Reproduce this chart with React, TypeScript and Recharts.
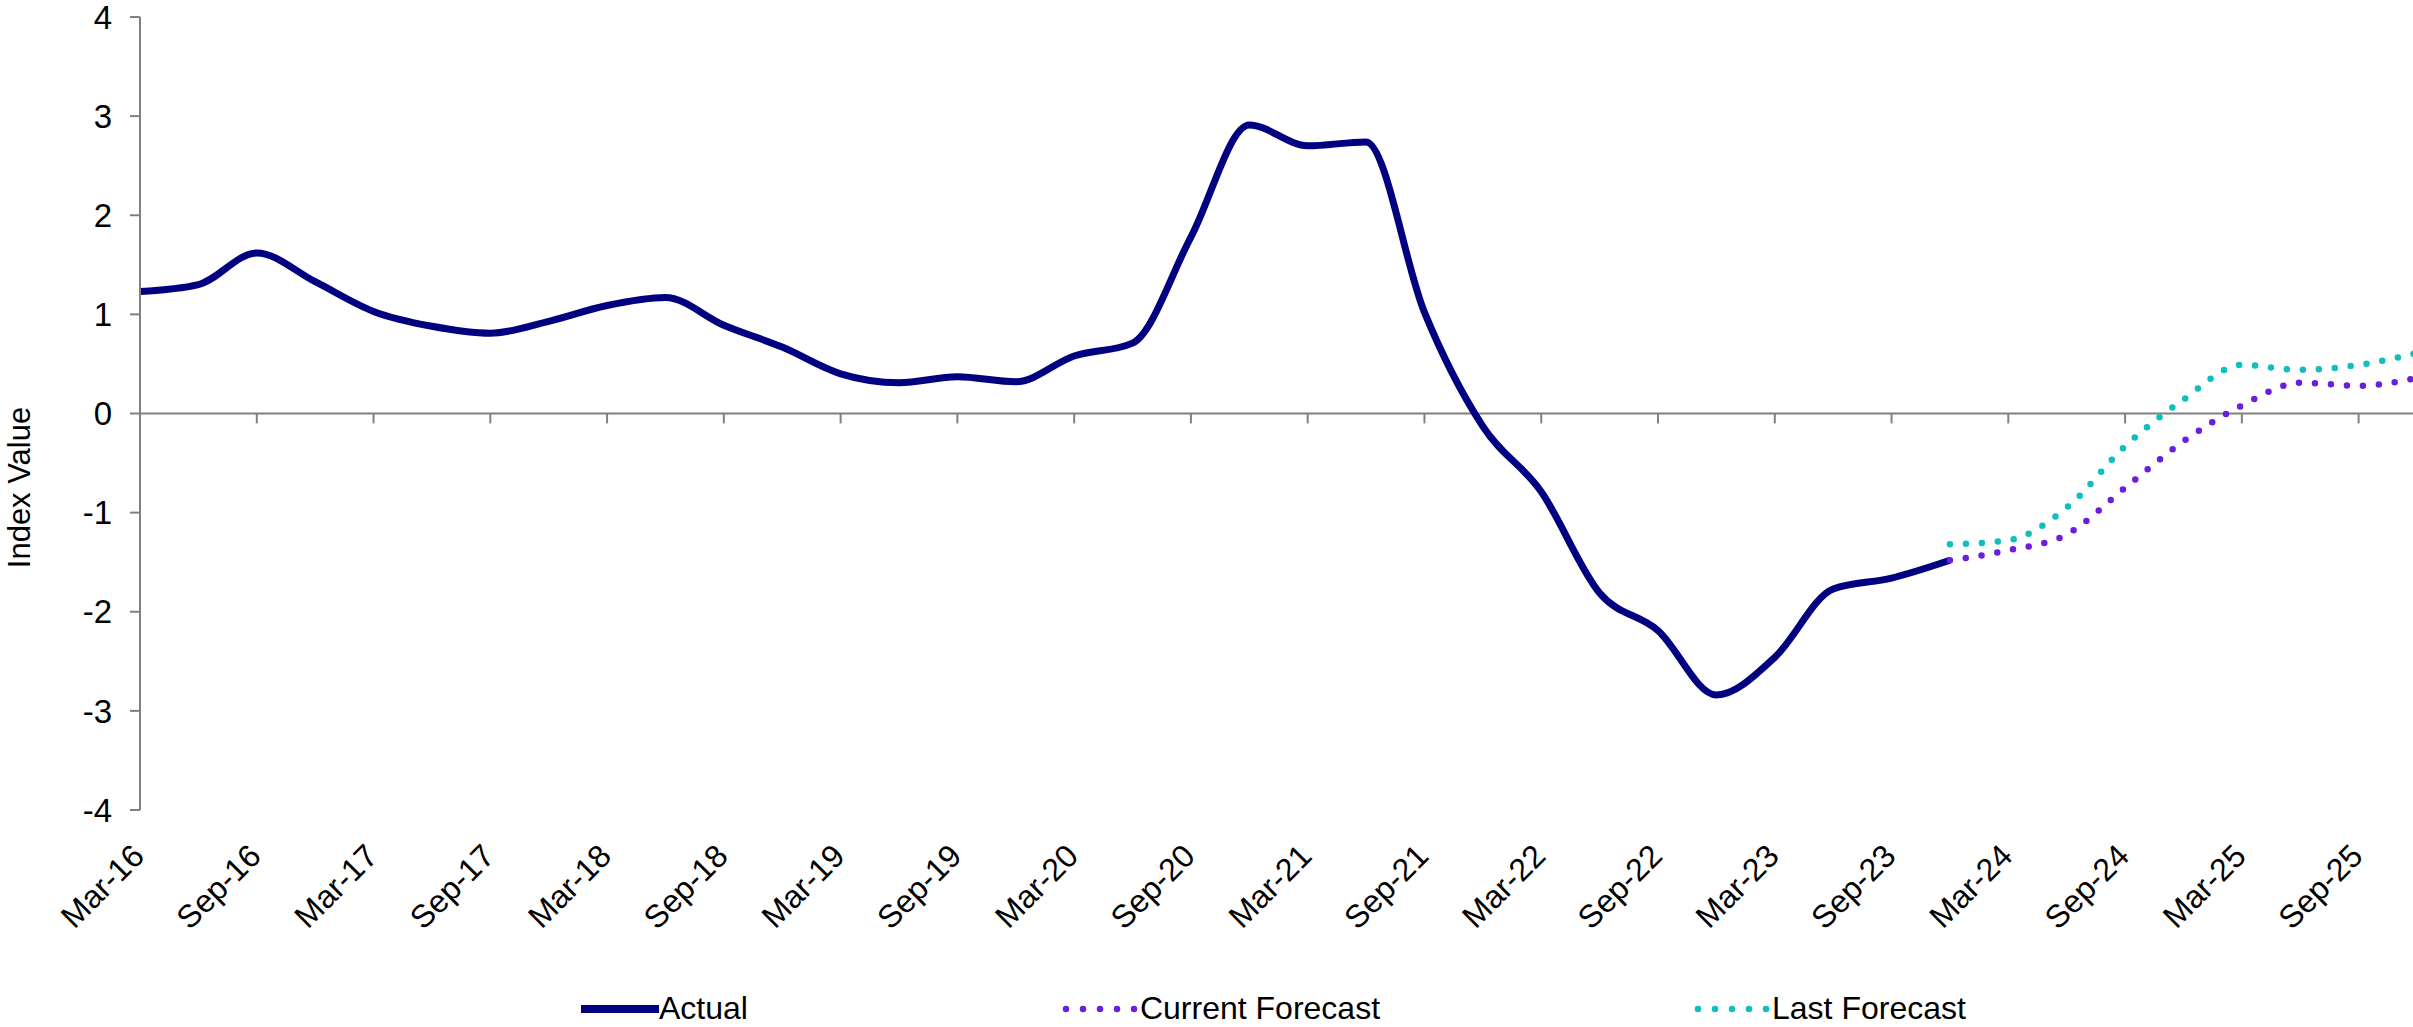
import { CartesianGrid, Line, LineChart, ReferenceLine, XAxis, YAxis } from "recharts";

const quarters = [
    "Mar-16", "Jun-16", "Sep-16", "Dec-16",
    "Mar-17", "Jun-17", "Sep-17", "Dec-17",
    "Mar-18", "Jun-18", "Sep-18", "Dec-18",
    "Mar-19", "Jun-19", "Sep-19", "Dec-19",
    "Mar-20", "Jun-20", "Sep-20", "Dec-20",
    "Mar-21", "Jun-21", "Sep-21", "Dec-21",
    "Mar-22", "Jun-22", "Sep-22", "Dec-22",
    "Mar-23", "Jun-23", "Sep-23", "Dec-23",
    "Mar-24", "Jun-24", "Sep-24", "Dec-24",
    "Mar-25", "Jun-25", "Sep-25", "Dec-25",
];

// Mar-16 .. Dec-23
const actual = [
    1.23, 1.30, 1.62, 1.33,
    1.03, 0.88, 0.81, 0.93,
    1.09, 1.17, 0.89, 0.67,
    0.40, 0.31, 0.37, 0.32,
    0.58, 0.71, 1.78, 2.91,
    2.70, 2.74, 1.02, -0.13,
    -0.79, -1.81, -2.19, -2.84,
    -2.46, -1.77, -1.66, -1.48,
];

// Dec-23 .. Dec-25
const forecastStart = "Dec-23";
const currentForecast = [-1.48, -1.38, -1.22, -0.75, -0.28, 0.08, 0.31, 0.28, 0.36];
const lastForecast = [-1.32, -1.28, -0.95, -0.33, 0.14, 0.49, 0.44, 0.49, 0.61];

const yTicks = [-4, -3, -2, -1, 0, 1, 2, 3, 4];

const FONT = '"Liberation Sans", Arial, sans-serif';
const NAVY = "#000080";
const PURPLE = "#6A1FE0";
const TEAL = "#0DBFBD";
const AXIS = "#808080";

const startIdx = quarters.indexOf(forecastStart);
const data = quarters.map((q, i) => ({
    q,
    actual: i < actual.length ? actual[i] : null,
    current: i >= startIdx ? currentForecast[i - startIdx] : null,
    last: i >= startIdx ? lastForecast[i - startIdx] : null,
}));

// half-year ticks that sit on the zero line
const halfYears = quarters.filter((_, i) => i % 2 === 0);

const XTick = (props: any) => {
    const { x, y, payload } = props;
    const tx = x + 6;
    const ty = y + 48;
    return (
        <text
            x={tx}
            y={ty}
            transform={`rotate(-45 ${tx} ${ty})`}
            textAnchor="end"
            fontSize={32}
            fontFamily={FONT}
            fill="#000"
        >
            {payload.value}
        </text>
    );
};

const YLabel = (props: any) => {
    const { x, y, height } = props.viewBox;
    const cx = x + 19;
    const cy = y + height / 2 + 74;
    return (
        <text
            x={cx}
            y={cy}
            transform={`rotate(-90 ${cx} ${cy})`}
            textAnchor="middle"
            dominantBaseline="central"
            fontSize={31}
            fontFamily={FONT}
            fill="#000"
        >
            Index Value
        </text>
    );
};

const LegendItem = ({ color, dotted, text }: { color: string; dotted: boolean; text: string }) => (
    <div style={{ display: "flex", alignItems: "center" }}>
        <svg width={78} height={12} style={{ display: "block" }}>
            {dotted ? (
                <line x1={4} y1={6} x2={76} y2={6} stroke={color} strokeWidth={6.5}
                    strokeDasharray="0 17" strokeLinecap="round" />
            ) : (
                <line x1={0} y1={6} x2={78} y2={6} stroke={color} strokeWidth={8} />
            )}
        </svg>
        <span style={{ fontSize: 32, lineHeight: "33px", fontFamily: FONT, color: "#000" }}>{text}</span>
    </div>
);

export default function App() {
    return (
        <div style={{ position: "absolute", left: 0, top: 0, width: 2413, height: 1027, overflow: "hidden", background: "#fff" }}>
            <LineChart
                width={2425}
                height={1027}
                data={data}
                margin={{ top: 17, right: 8, bottom: 0, left: 0 }}
            >
                <CartesianGrid horizontal={false} vertical={false} />
                <XAxis
                    dataKey="q"
                    interval={1}
                    height={217}
                    axisLine={false}
                    tickLine={false}
                    tickSize={0}
                    tickMargin={0}
                    tick={<XTick />}
                />
                <YAxis
                    width={140}
                    domain={[-4, 4]}
                    ticks={yTicks}
                    interval={0}
                    stroke={AXIS}
                    strokeWidth={2}
                    tickSize={10}
                    tickMargin={18}
                    tick={{ fill: "#000", fontSize: 33, fontFamily: FONT }}
                    label={<YLabel />}
                />
                <ReferenceLine y={0} stroke={AXIS} strokeWidth={2} />
                {halfYears.map((q) => (
                    <ReferenceLine
                        key={q}
                        segment={[{ x: q, y: 0 }, { x: q, y: -0.1 }]}
                        stroke={AXIS}
                        strokeWidth={2}
                    />
                ))}
                <Line
                    type="monotone"
                    dataKey="actual"
                    stroke={NAVY}
                    strokeWidth={7}
                    dot={false}
                    activeDot={false}
                    isAnimationActive={false}
                />
                <Line
                    type="monotone"
                    dataKey="last"
                    stroke={TEAL}
                    strokeWidth={6.5}
                    strokeDasharray="0 16"
                    strokeLinecap="round"
                    dot={false}
                    activeDot={false}
                    isAnimationActive={false}
                />
                <Line
                    type="monotone"
                    dataKey="current"
                    stroke={PURPLE}
                    strokeWidth={6.5}
                    strokeDasharray="0 16"
                    strokeLinecap="round"
                    dot={false}
                    activeDot={false}
                    isAnimationActive={false}
                />
            </LineChart>
            <div style={{ position: "absolute", left: 581, top: 992, display: "flex", gap: 314 }}>
                <LegendItem color={NAVY} dotted={false} text="Actual" />
                <LegendItem color={PURPLE} dotted={true} text="Current Forecast" />
                <LegendItem color={TEAL} dotted={true} text="Last Forecast" />
            </div>
        </div>
    );
}
